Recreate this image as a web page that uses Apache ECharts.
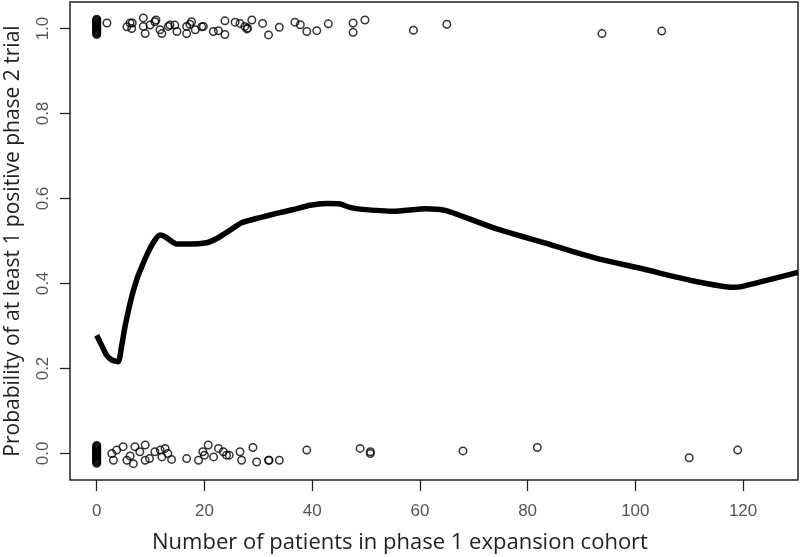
<!DOCTYPE html>
<html>
<head>
<meta charset="utf-8">
<script src="https://cdn.jsdelivr.net/npm/echarts@6/dist/echarts.min.js"></script>
<style>
  html, body { margin: 0; padding: 0; background: #fff; }
  #chart { width: 800px; height: 557px; }
</style>
</head>
<body>
<div id="chart"></div>
<script>
// fitted curve (loess-like)
const curveX = [0, 0.9, 1.85, 2.8, 4.0, 4.6, 5.25, 5.9, 6.5, 7.4, 8.35, 9.6, 10.8, 11.75, 12.7, 14.8, 16.7, 20.4, 22.3, 24.7, 26.9, 30.3, 33.4, 36.5, 39.6, 42.7, 45.2, 47.0, 48.9, 55.1, 61.2, 65.0, 73.7, 83.0, 92.3, 101.5, 110.8, 118.2, 119.5, 130.2];
const curveY = [0.278, 0.255, 0.231, 0.220, 0.216, 0.251, 0.298, 0.337, 0.369, 0.408, 0.439, 0.475, 0.502, 0.514, 0.510, 0.493, 0.493, 0.496, 0.506, 0.525, 0.543, 0.555, 0.565, 0.574, 0.584, 0.588, 0.587, 0.579, 0.575, 0.570, 0.576, 0.571, 0.531, 0.496, 0.461, 0.434, 0.406, 0.391, 0.392, 0.426];

// jittered outcomes = 1 (many overlapping points at x = 0)
const topX = [0, 0, 0, 0, 0, 0, 0, 0, 0, 0, 0, 0, 0, 0, 0, 0, 0, 0, 0,
  1.9, 5.6, 6.2, 6.5, 6.6, 8.65, 8.65, 9.0, 9.9, 10.8, 11.0, 11.75, 12.1, 13.3, 13.6, 14.5, 14.9, 16.7, 16.7, 17.3, 17.6, 18.3, 19.5, 19.8,
  21.65, 22.6, 23.8, 23.8, 25.7, 26.6, 27.5, 27.9, 28.0, 28.8, 30.8, 31.9, 33.9, 36.8, 37.8, 39.0, 40.85, 43.0, 47.6, 47.6, 49.8, 58.8, 65.0, 93.8, 104.9];
const topY = [1.022, 1.020, 1.018, 1.016, 1.014, 1.012, 1.010, 1.008, 1.006, 1.004, 1.002, 1.000, 0.998, 0.996, 0.994, 0.992, 0.990, 0.988, 0.986,
  1.013, 1.004, 1.013, 1.000, 1.013, 1.025, 1.005, 0.988, 1.008, 1.016, 1.020, 0.997, 0.988, 1.005, 1.008, 1.008, 0.993, 1.005, 0.988, 1.010, 1.016, 0.997, 1.004, 1.005,
  0.993, 0.995, 0.986, 1.018, 1.015, 1.012, 1.005, 0.999, 1.001, 1.020, 1.012, 0.985, 1.003, 1.015, 1.009, 0.993, 0.995, 1.011, 1.013, 0.991, 1.020, 0.996, 1.010, 0.988, 0.994];

// jittered outcomes = 0
const bottomX = [0, 0, 0, 0, 0, 0, 0, 0, 0, 0, 0, 0, 0, 0, 0, 0, 0, 0, 0, 0, 0, 0,
  2.8, 3.1, 3.7, 4.9, 5.6, 6.2, 6.8, 7.1, 8.0, 9.0, 9.0, 9.8, 10.8, 11.8, 12.1, 12.7, 13.2, 13.9, 16.7, 18.9, 19.7, 20.0, 20.7, 21.7, 22.6, 23.5, 24.1, 24.6,
  26.6, 26.9, 29.0, 29.7, 31.9, 32.0, 33.9, 39.0, 48.9, 50.8, 50.8, 68.0, 81.8, 110.0, 119.0];
const bottomY = [0.019, 0.017, 0.015, 0.013, 0.011, 0.009, 0.007, 0.005, 0.003, 0.001, -0.001, -0.003, -0.005, -0.007, -0.009, -0.011, -0.013, -0.015, -0.017, -0.019, -0.021, -0.023,
  0.000, -0.016, 0.008, 0.016, -0.016, -0.006, -0.024, 0.016, 0.004, 0.020, -0.016, -0.012, 0.004, 0.008, -0.008, 0.012, 0.000, -0.014, -0.012, -0.016, 0.004, -0.004, 0.020, -0.008, 0.012, 0.004, -0.004, -0.004,
  0.004, -0.016, 0.014, -0.020, -0.016, -0.016, -0.016, 0.008, 0.012, 0.004, 0.000, 0.006, 0.014, -0.010, 0.008];

const xTicks = [0, 20, 40, 60, 80, 100, 120];
const yTicks = [0, 0.2, 0.4, 0.6, 0.8, 1.0];

const zip = (xs, ys) => xs.map((x, i) => [x, ys[i]]);

var chart = echarts.init(document.getElementById('chart'));

var pointStyle = {
  color: 'rgba(0,0,0,0)',
  borderColor: '#000',
  borderWidth: 1.5
};

var tickFont = {
  color: '#555',
  fontFamily: '"Liberation Sans Narrow", "Liberation Sans", sans-serif',
  fontSize: 17
};

var option = {
  animation: false,
  backgroundColor: '#fff',
  grid: {
    left: 70, right: 2, top: 2, bottom: 77,
    outerBoundsMode: 'none',
    show: true,
    borderColor: '#222',
    borderWidth: 1.5
  },
  xAxis: {
    type: 'value',
    min: -4.96,
    max: 130.2,
    axisLine: { show: false, onZero: false },
    splitLine: { show: false },
    axisTick: {
      show: true, inside: false, length: 11,
      customValues: xTicks,
      lineStyle: { color: '#222', width: 1.3 }
    },
    axisLabel: Object.assign({ customValues: xTicks, margin: 23 }, tickFont)
  },
  yAxis: {
    type: 'value',
    min: -0.0624,
    max: 1.0624,
    name: 'Probability of at least 1 positive phase 2 trial',
    nameLocation: 'middle',
    nameGap: 46,
    nameTextStyle: { fontFamily: 'Open Sans', fontSize: 21, color: '#222' },
    axisLine: { show: false, onZero: false },
    splitLine: { show: false },
    axisTick: {
      show: true, inside: false, length: 10,
      customValues: yTicks,
      lineStyle: { color: '#222', width: 1.3 }
    },
    axisLabel: Object.assign({
      customValues: yTicks,
      rotate: 90,
      margin: 18,
      formatter: v => v.toFixed(1)
    }, tickFont)
  },
  graphic: [{
    type: 'text',
    left: 'center',
    top: 532,
    style: {
      text: 'Number of patients in phase 1 expansion cohort',
      font: '22px "Open Sans"',
      fill: '#222'
    }
  }],
  series: [
    {
      name: 'fit',
      type: 'line',
      data: zip(curveX, curveY),
      showSymbol: false,
      smooth: 0.2,
      lineStyle: { color: '#000', width: 5.5 },
      z: 3
    },
    {
      name: 'success',
      type: 'scatter',
      data: zip(topX, topY),
      symbol: 'circle',
      symbolSize: 7.5,
      itemStyle: pointStyle
    },
    {
      name: 'failure',
      type: 'scatter',
      data: zip(bottomX, bottomY),
      symbol: 'circle',
      symbolSize: 7.5,
      itemStyle: pointStyle
    }
  ]
};

chart.setOption(option);
window.addEventListener('resize', chart.resize);
</script>
</body>
</html>
